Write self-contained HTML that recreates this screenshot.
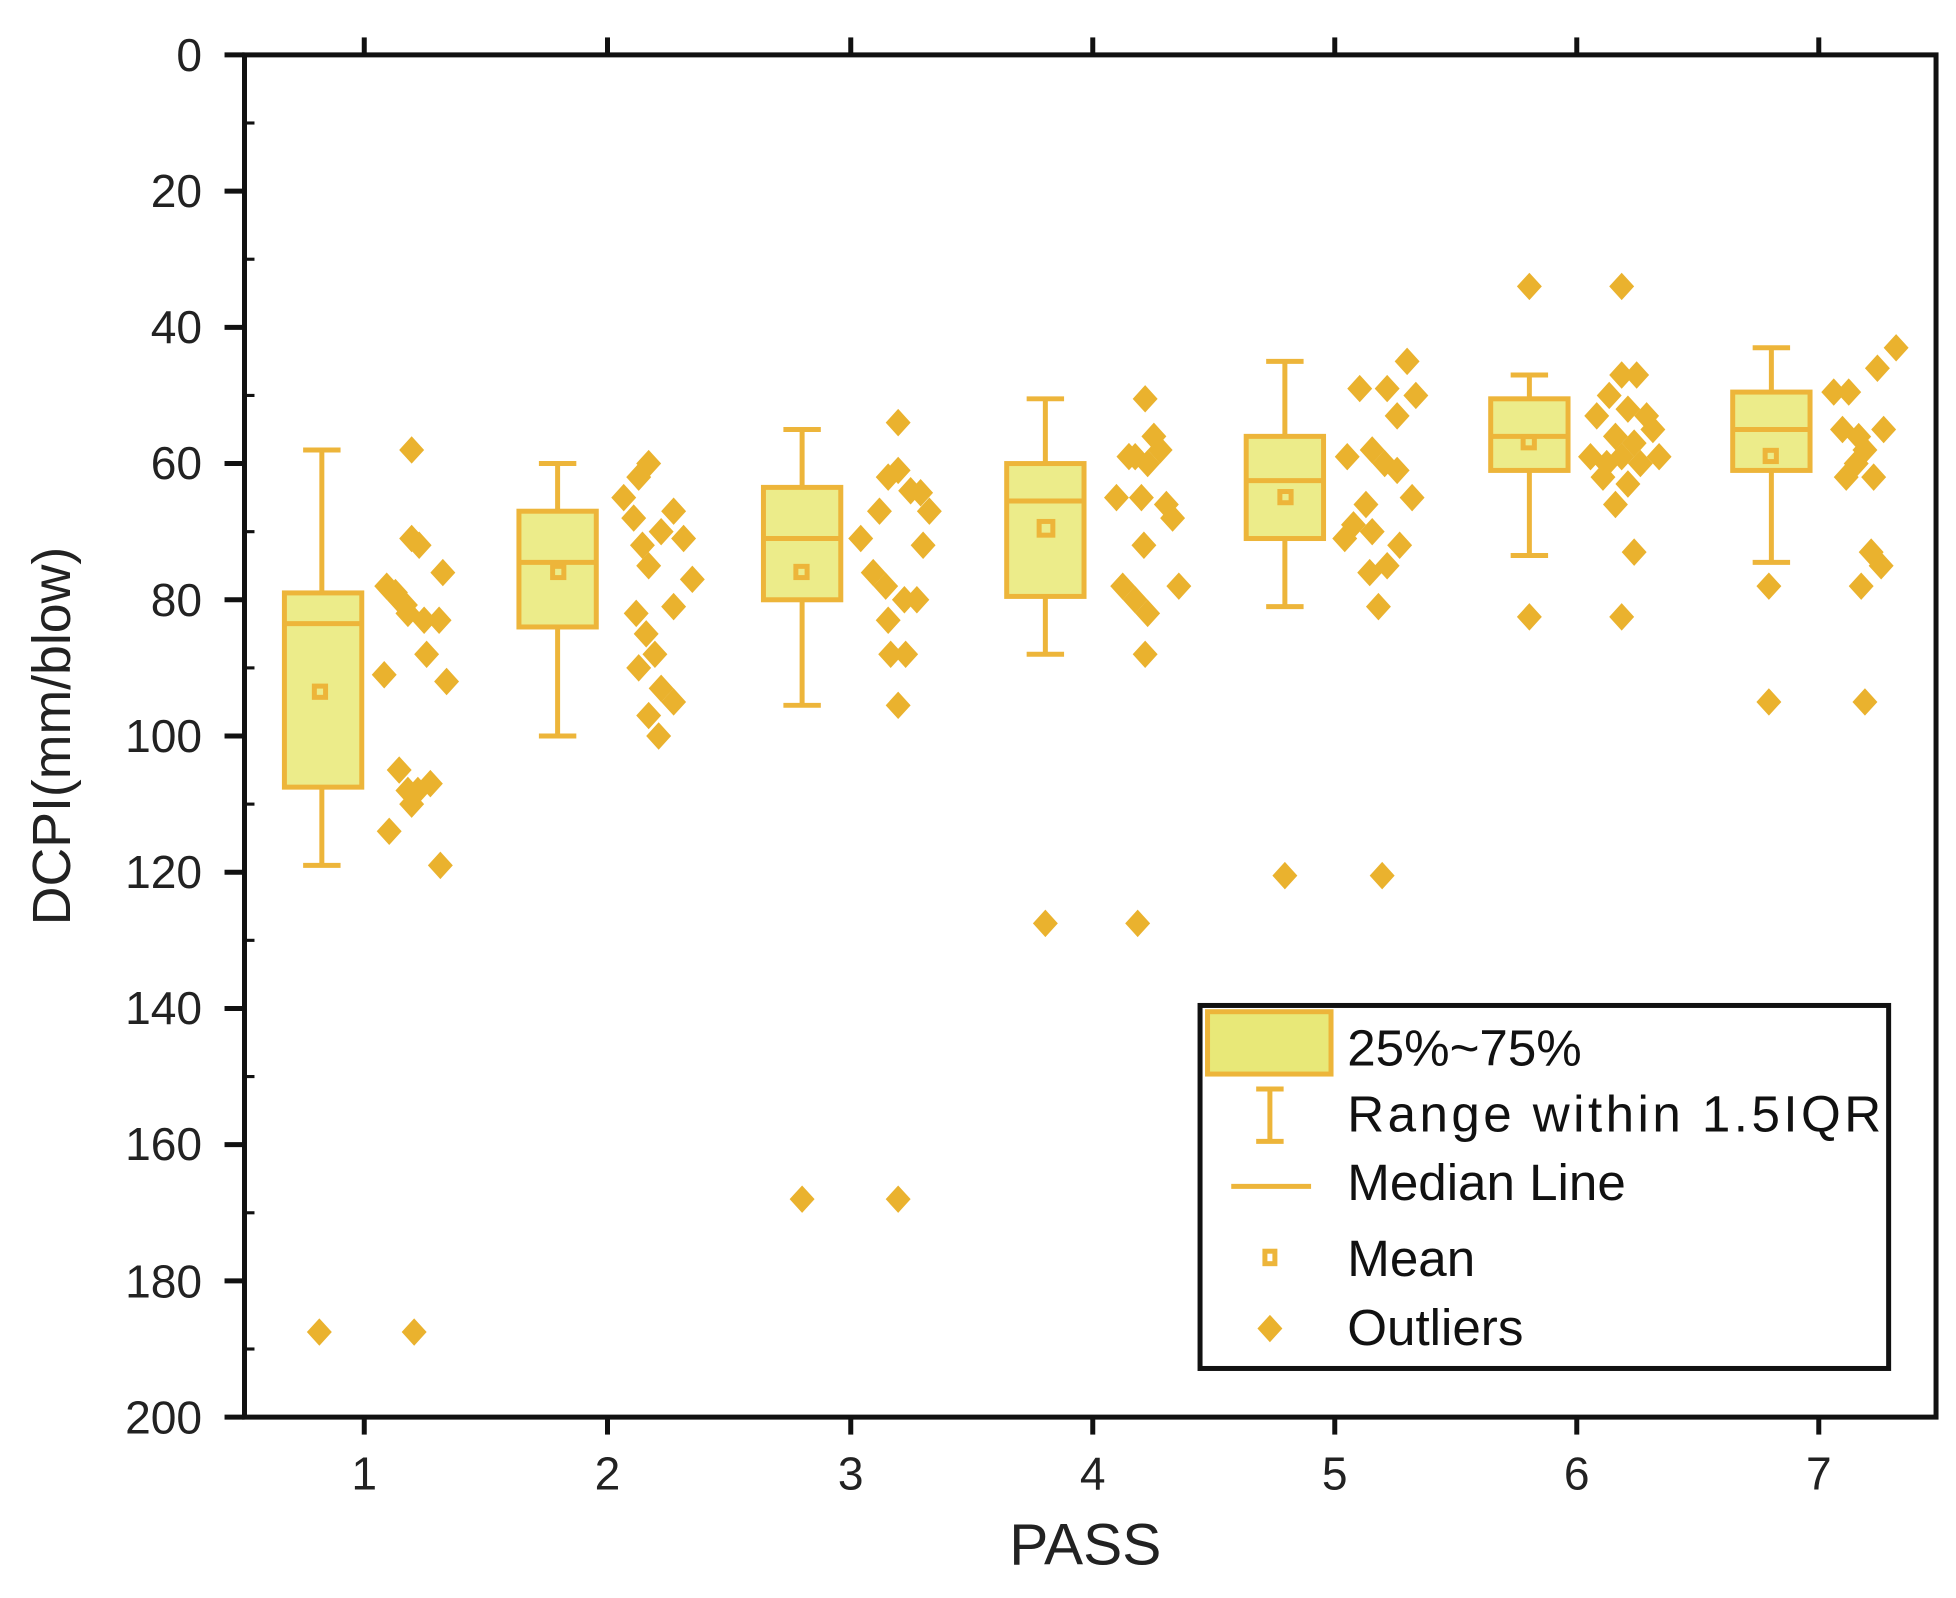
<!DOCTYPE html>
<html><head><meta charset="utf-8"><style>html,body{margin:0;padding:0;background:#fff}svg{display:block}</style></head><body>
<svg width="1956" height="1598" viewBox="0 0 1568 1281" preserveAspectRatio="none" xmlns="http://www.w3.org/2000/svg" font-family="Liberation Sans, sans-serif">
<defs><path id="d" d="M0,-11 L10,0 L0,11 L-10,0Z" fill="#eab22e"/></defs>
<rect width="1568" height="1281" fill="#fff"/>
<rect x="196" y="44" width="1356" height="1092" fill="none" stroke="#111" stroke-width="4"/>
<g stroke="#111" stroke-width="4">
<line x1="180" y1="44" x2="196" y2="44"/><line x1="180" y1="153.2" x2="196" y2="153.2"/><line x1="180" y1="262.4" x2="196" y2="262.4"/><line x1="180" y1="371.6" x2="196" y2="371.6"/><line x1="180" y1="480.8" x2="196" y2="480.8"/><line x1="180" y1="590" x2="196" y2="590"/><line x1="180" y1="699.2" x2="196" y2="699.2"/><line x1="180" y1="808.4" x2="196" y2="808.4"/><line x1="180" y1="917.6" x2="196" y2="917.6"/><line x1="180" y1="1026.8" x2="196" y2="1026.8"/><line x1="180" y1="1136" x2="196" y2="1136"/>
</g>
<g stroke="#111" stroke-width="2.5">
<line x1="196" y1="98.6" x2="204" y2="98.6"/><line x1="196" y1="207.8" x2="204" y2="207.8"/><line x1="196" y1="317" x2="204" y2="317"/><line x1="196" y1="426.2" x2="204" y2="426.2"/><line x1="196" y1="535.4" x2="204" y2="535.4"/><line x1="196" y1="644.6" x2="204" y2="644.6"/><line x1="196" y1="753.8" x2="204" y2="753.8"/><line x1="196" y1="863" x2="204" y2="863"/><line x1="196" y1="972.2" x2="204" y2="972.2"/><line x1="196" y1="1081.4" x2="204" y2="1081.4"/>
</g>
<g stroke="#111" stroke-width="4">
<line x1="292" y1="30" x2="292" y2="44"/><line x1="487" y1="30" x2="487" y2="44"/><line x1="682" y1="30" x2="682" y2="44"/><line x1="876" y1="30" x2="876" y2="44"/><line x1="1070" y1="30" x2="1070" y2="44"/><line x1="1264" y1="30" x2="1264" y2="44"/><line x1="1458" y1="30" x2="1458" y2="44"/>
<line x1="292" y1="1136" x2="292" y2="1150"/><line x1="487" y1="1136" x2="487" y2="1150"/><line x1="682" y1="1136" x2="682" y2="1150"/><line x1="876" y1="1136" x2="876" y2="1150"/><line x1="1070" y1="1136" x2="1070" y2="1150"/><line x1="1264" y1="1136" x2="1264" y2="1150"/><line x1="1458" y1="1136" x2="1458" y2="1150"/>
</g>
<g font-size="37" fill="#222" text-anchor="end">
<text x="162" y="57">0</text><text x="162" y="166">20</text><text x="162" y="275">40</text><text x="162" y="384">60</text><text x="162" y="494">80</text><text x="162" y="603">100</text><text x="162" y="712">120</text><text x="162" y="821">140</text><text x="162" y="930">160</text><text x="162" y="1040">180</text><text x="162" y="1149">200</text>
</g>
<g font-size="37" fill="#222" text-anchor="middle">
<text x="292" y="1194">1</text><text x="487" y="1194">2</text><text x="682" y="1194">3</text><text x="876" y="1194">4</text><text x="1070" y="1194">5</text><text x="1264" y="1194">6</text><text x="1458" y="1194">7</text>
</g>
<text x="870" y="1254" font-size="47" fill="#222" text-anchor="middle">PASS</text>
<text transform="translate(56,590) rotate(-90)" font-size="43" fill="#222" text-anchor="middle">DCPI(mm/blow)</text>
<g stroke="#edb53a" stroke-width="4" fill="#ecec8a">
<line x1="258" y1="360.7" x2="258" y2="693.7"/><line x1="243" y1="360.7" x2="273" y2="360.7"/><line x1="243" y1="693.7" x2="273" y2="693.7"/>
<rect x="228" y="475.3" width="62" height="155.7"/><line x1="228" y1="499.9" x2="290" y2="499.9"/><rect x="252" y="550" width="9" height="9" fill="none"/>
<line x1="447" y1="371.6" x2="447" y2="590"/><line x1="432" y1="371.6" x2="462" y2="371.6"/><line x1="432" y1="590" x2="462" y2="590"/>
<rect x="416" y="409.8" width="62" height="92.8"/><line x1="416" y1="450.8" x2="478" y2="450.8"/><rect x="443" y="454" width="9" height="9" fill="none"/>
<line x1="643" y1="344.3" x2="643" y2="565.4"/><line x1="628" y1="344.3" x2="658" y2="344.3"/><line x1="628" y1="565.4" x2="658" y2="565.4"/>
<rect x="612" y="390.7" width="62" height="90.1"/><line x1="612" y1="431.7" x2="674" y2="431.7"/><rect x="638" y="454" width="9" height="9" fill="none"/>
<line x1="838" y1="319.7" x2="838" y2="524.5"/><line x1="823" y1="319.7" x2="853" y2="319.7"/><line x1="823" y1="524.5" x2="853" y2="524.5"/>
<rect x="807" y="371.6" width="62" height="106.5"/><line x1="807" y1="401.6" x2="869" y2="401.6"/><rect x="833" y="418" width="11" height="11" fill="none"/>
<line x1="1030" y1="289.7" x2="1030" y2="486.3"/><line x1="1015" y1="289.7" x2="1045" y2="289.7"/><line x1="1015" y1="486.3" x2="1045" y2="486.3"/>
<rect x="999" y="349.8" width="62" height="81.9"/><line x1="999" y1="385.3" x2="1061" y2="385.3"/><rect x="1026" y="394" width="9" height="9" fill="none"/>
<line x1="1226" y1="300.6" x2="1226" y2="445.3"/><line x1="1211" y1="300.6" x2="1241" y2="300.6"/><line x1="1211" y1="445.3" x2="1241" y2="445.3"/>
<rect x="1195" y="319.7" width="62" height="57.4"/><line x1="1195" y1="349.8" x2="1257" y2="349.8"/><rect x="1221" y="350" width="9" height="9" fill="none"/>
<line x1="1420" y1="278.8" x2="1420" y2="450.8"/><line x1="1405" y1="278.8" x2="1435" y2="278.8"/><line x1="1405" y1="450.8" x2="1435" y2="450.8"/>
<rect x="1389" y="314.3" width="62" height="62.8"/><line x1="1389" y1="344.3" x2="1451" y2="344.3"/><rect x="1415" y="361" width="9" height="9" fill="none"/>
</g>
<g>
<use href="#d" x="256" y="1067.8"/><use href="#d" x="332" y="1067.8"/>
<use href="#d" x="330" y="360.7"/><use href="#d" x="330" y="431.7"/><use href="#d" x="336" y="437.1"/><use href="#d" x="355" y="459"/><use href="#d" x="310" y="469.9"/><use href="#d" x="320" y="480.8"/><use href="#d" x="327" y="491.7"/><use href="#d" x="340" y="497.2"/><use href="#d" x="352" y="497.2"/><use href="#d" x="308" y="540.9"/><use href="#d" x="342" y="524.5"/><use href="#d" x="358" y="546.3"/><use href="#d" x="320" y="617.3"/><use href="#d" x="327" y="633.7"/><use href="#d" x="335" y="633.7"/><use href="#d" x="345" y="628.2"/><use href="#d" x="330" y="644.6"/><use href="#d" x="312" y="666.4"/><use href="#d" x="353" y="693.7"/><use href="#d" x="317" y="475"/><use href="#d" x="325" y="485"/>
<use href="#d" x="520" y="371.6"/><use href="#d" x="512" y="382.5"/><use href="#d" x="500" y="398.9"/><use href="#d" x="508" y="415.3"/><use href="#d" x="540" y="409.8"/><use href="#d" x="530" y="426.2"/><use href="#d" x="515" y="437.1"/><use href="#d" x="548" y="431.7"/><use href="#d" x="520" y="453.5"/><use href="#d" x="555" y="464.4"/><use href="#d" x="510" y="491.7"/><use href="#d" x="540" y="486.3"/><use href="#d" x="518" y="508.1"/><use href="#d" x="525" y="524.5"/><use href="#d" x="530" y="551.8"/><use href="#d" x="540" y="562.7"/><use href="#d" x="520" y="573.6"/><use href="#d" x="528" y="590"/><use href="#d" x="512" y="535.4"/>
<use href="#d" x="643" y="961.3"/><use href="#d" x="720" y="961.3"/>
<use href="#d" x="720" y="338.8"/><use href="#d" x="712" y="382.5"/><use href="#d" x="720" y="377.1"/><use href="#d" x="730" y="393.4"/><use href="#d" x="705" y="409.8"/><use href="#d" x="745" y="409.8"/><use href="#d" x="690" y="431.7"/><use href="#d" x="740" y="437.1"/><use href="#d" x="700" y="459"/><use href="#d" x="710" y="469.9"/><use href="#d" x="725" y="480.8"/><use href="#d" x="735" y="480.8"/><use href="#d" x="712" y="497.2"/><use href="#d" x="714" y="524.5"/><use href="#d" x="726" y="524.5"/><use href="#d" x="720" y="565.4"/><use href="#d" x="738" y="395"/>
<use href="#d" x="838" y="740.2"/><use href="#d" x="912" y="740.2"/>
<use href="#d" x="918" y="319.7"/><use href="#d" x="925" y="349.8"/><use href="#d" x="910" y="366.1"/><use href="#d" x="920" y="371.6"/><use href="#d" x="930" y="360.7"/><use href="#d" x="895" y="398.9"/><use href="#d" x="915" y="398.9"/><use href="#d" x="935" y="404.4"/><use href="#d" x="940" y="415.3"/><use href="#d" x="917" y="437.1"/><use href="#d" x="900" y="469.9"/><use href="#d" x="910" y="480.8"/><use href="#d" x="945" y="469.9"/><use href="#d" x="920" y="491.7"/><use href="#d" x="918" y="524.5"/><use href="#d" x="905" y="366"/>
<use href="#d" x="1030" y="701.9"/><use href="#d" x="1108" y="701.9"/>
<use href="#d" x="1128" y="289.7"/><use href="#d" x="1112" y="311.5"/><use href="#d" x="1090" y="311.5"/><use href="#d" x="1135" y="317"/><use href="#d" x="1120" y="333.4"/><use href="#d" x="1080" y="366.1"/><use href="#d" x="1100" y="360.7"/><use href="#d" x="1110" y="371.6"/><use href="#d" x="1120" y="377.1"/><use href="#d" x="1132" y="398.9"/><use href="#d" x="1095" y="404.4"/><use href="#d" x="1085" y="420.7"/><use href="#d" x="1100" y="426.2"/><use href="#d" x="1078" y="431.7"/><use href="#d" x="1122" y="437.1"/><use href="#d" x="1112" y="453.5"/><use href="#d" x="1098" y="459"/><use href="#d" x="1105" y="486.3"/>
<use href="#d" x="1226" y="229.6"/><use href="#d" x="1226" y="494.5"/>
<use href="#d" x="1300" y="229.6"/><use href="#d" x="1300" y="300.6"/><use href="#d" x="1312" y="300.6"/><use href="#d" x="1290" y="317"/><use href="#d" x="1280" y="333.4"/><use href="#d" x="1305" y="328"/><use href="#d" x="1320" y="333.4"/><use href="#d" x="1295" y="349.8"/><use href="#d" x="1310" y="355.2"/><use href="#d" x="1325" y="344.3"/><use href="#d" x="1275" y="366.1"/><use href="#d" x="1288" y="371.6"/><use href="#d" x="1300" y="366.1"/><use href="#d" x="1315" y="371.6"/><use href="#d" x="1330" y="366.1"/><use href="#d" x="1285" y="382.5"/><use href="#d" x="1305" y="388"/><use href="#d" x="1295" y="404.4"/><use href="#d" x="1310" y="442.6"/><use href="#d" x="1300" y="494.5"/>
<use href="#d" x="1418" y="469.9"/><use href="#d" x="1418" y="562.7"/>
<use href="#d" x="1520" y="278.8"/><use href="#d" x="1505" y="295.2"/><use href="#d" x="1470" y="314.3"/><use href="#d" x="1482" y="314.3"/><use href="#d" x="1477" y="344.3"/><use href="#d" x="1510" y="344.3"/><use href="#d" x="1495" y="360.7"/><use href="#d" x="1488" y="371.6"/><use href="#d" x="1502" y="382.5"/><use href="#d" x="1480" y="382.5"/><use href="#d" x="1500" y="442.6"/><use href="#d" x="1508" y="453.5"/><use href="#d" x="1492" y="469.9"/><use href="#d" x="1495" y="562.7"/><use href="#d" x="1490" y="350"/>
</g>
<rect x="962" y="806" width="552" height="291" fill="#fff" stroke="#111" stroke-width="4"/>
<rect x="968" y="811" width="99" height="50" fill="#e8e878" stroke="#edb53a" stroke-width="4"/>
<g stroke="#edb53a" stroke-width="4" fill="none">
<line x1="1018" y1="873" x2="1018" y2="915"/><line x1="1007" y1="873" x2="1029" y2="873"/><line x1="1007" y1="915" x2="1029" y2="915"/>
<line x1="987" y1="951" x2="1051" y2="951"/>
<rect x="1014" y="1003" width="8" height="10"/>
</g>
<use href="#d" x="1018" y="1065"/>
<g font-size="41" fill="#111">
<text x="1080" y="854">25%~75%</text>
<text x="1080" y="907" textLength="428">Range within 1.5IQR</text>
<text x="1080" y="962">Median Line</text>
<text x="1080" y="1023">Mean</text>
<text x="1080" y="1078">Outliers</text>
</g>
</svg>
</body></html>
